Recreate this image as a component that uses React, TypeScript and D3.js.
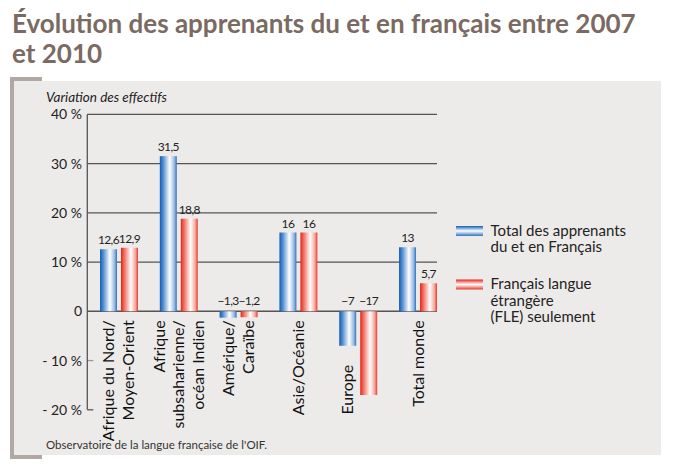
import * as d3 from "d3"

const categories = ["Afrique du Nord/Moyen-Orient", "Afrique subsaharienne/océan Indien", "Amérique/Caraïbe", "Asie/Océanie", "Europe", "Total monde"]
const categoryLines = [
    ["Afrique du Nord/", "Moyen-Orient"],
    ["Afrique", "subsaharienne/", "océan Indien"],
    ["Amérique/", "Caraïbe"],
    ["Asie/Océanie"],
    ["Europe"],
    ["Total monde"],
]
const totalValues = [12.6, 31.5, -1.3, 16, -7, 13]
const fleValues = [12.9, 18.8, -1.2, 16, -17, 5.7]
const seriesNames = ["Total des apprenants du et en Français", "Français langue étrangère (FLE) seulement"]
const legendLines = [
    ["Total des apprenants", "du et en Français"],
    ["Français langue", "étrangère", "(FLE) seulement"],
]
const yTicks = [40, 30, 20, 10, 0, -10, -20]

const W = 674
const H = 470
const FONT = "Lato, 'Open Sans', sans-serif"

const locale = d3.formatLocale({ decimal: ",", thousands: " ", grouping: [3], currency: ["", "€"], minus: "−" })
const fmt = locale.format(".3~g")
const tickLabel = (v: number) => (v === 0 ? "0" : v > 0 ? `${v} %` : `- ${-v} %`)

export default function App() {
    const y = d3.scaleLinear().domain([-20, 40]).range([409.8, 114.3])
    const x0 = d3.scaleBand<string>().domain(categories).range([100, 437]).paddingInner(0.365).paddingOuter(0).align(0)
    const x1 = d3.scaleBand<number>().domain([0, 1]).range([0, x0.bandwidth()]).paddingInner(0.19).paddingOuter(0)
    const left = 87.3
    const right = 437

    const series = [totalValues, fleValues]
    const gradIds = ["gBlue", "gRed"]

    return (
        <svg width={W} height={H} viewBox={`0 0 ${W} ${H}`} style={{ position: "absolute", left: 0, top: 0, background: "#fff" }}>
            <defs>
                <linearGradient id="gBlue" x1="0" x2="1" y1="0" y2="0">
                    <stop offset="0" stopColor="#135eb0" />
                    <stop offset="0.18" stopColor="#4b89cd" />
                    <stop offset="0.58" stopColor="#ffffff" />
                    <stop offset="0.85" stopColor="#9bbbe2" />
                    <stop offset="1" stopColor="#2f72c2" />
                </linearGradient>
                <linearGradient id="gRed" x1="0" x2="1" y1="0" y2="0">
                    <stop offset="0" stopColor="#e8241a" />
                    <stop offset="0.18" stopColor="#f0695a" />
                    <stop offset="0.58" stopColor="#ffffff" />
                    <stop offset="0.85" stopColor="#f5a79c" />
                    <stop offset="1" stopColor="#e83a2c" />
                </linearGradient>
                <linearGradient id="gBlueL" x1="0" x2="0" y1="0" y2="1">
                    <stop offset="0" stopColor="#135eb0" />
                    <stop offset="0.5" stopColor="#ffffff" />
                    <stop offset="1" stopColor="#2f72c2" />
                </linearGradient>
                <linearGradient id="gRedL" x1="0" x2="0" y1="0" y2="1">
                    <stop offset="0" stopColor="#e8241a" />
                    <stop offset="0.5" stopColor="#ffffff" />
                    <stop offset="1" stopColor="#e83a2c" />
                </linearGradient>
            </defs>

            {/* title */}
            <text x={12} y={33} fontFamily={FONT} fontWeight={700} fontSize={26} fill="#7b6a62">
                Évolution des apprenants du et en français entre 2007
            </text>
            <text x={12} y={63} fontFamily={FONT} fontWeight={700} fontSize={26} fill="#7b6a62">
                et 2010
            </text>

            {/* panel */}
            <rect x={14} y={81} width={647} height={374} fill="#edebe9" />
            <rect x={10} y={77} width={32} height={4} fill="#b2a8a3" />
            <rect x={10} y={77} width={4} height={382} fill="#b2a8a3" />
            <rect x={10} y={455} width={32} height={4} fill="#b2a8a3" />

            <text x={46} y={102} fontFamily={FONT} fontStyle="italic" fontSize={13.5} fill="#222">
                Variation des effectifs
            </text>

            {/* grid + ticks */}
            {yTicks.map((t) => (
                <g key={t}>
                    {t >= 0 ? (
                        <line x1={left} x2={right} y1={y(t)} y2={y(t)} stroke="#555" strokeWidth={t === 0 ? 1.4 : 1.2} />
                    ) : (
                        <line x1={left} x2={left + 6} y1={y(t)} y2={y(t)} stroke={t === -20 ? "#555" : "#999"} strokeWidth={1.3} />
                    )}
                    <text x={82} y={y(t) + 5} textAnchor="end" fontFamily={FONT} fontSize={14} fill="#222">
                        {tickLabel(t)}
                    </text>
                </g>
            ))}
            <line x1={left} x2={left} y1={y(40)} y2={y(-20)} stroke="#555" strokeWidth={1.3} />

            {/* bars */}
            {series.map((vals, s) =>
                vals.map((v, i) => {
                    const bx = (x0(categories[i]) ?? 0) + (x1(s) ?? 0)
                    const bw = x1.bandwidth()
                    return (
                        <g key={`${s}-${i}`}>
                            <rect x={bx} y={y(Math.max(0, v))} width={bw} height={Math.abs(y(v) - y(0))} fill={`url(#${gradIds[s]})`} />
                            <text
                                x={bx + bw / 2}
                                y={v >= 0 ? y(v) - 5 : y(0) - 6}
                                textAnchor="middle"
                                fontFamily={FONT}
                                fontSize={12}
                                letterSpacing={-0.6}
                                fill="#222"
                            >
                                {fmt(v)}
                            </text>
                        </g>
                    )
                }),
            )}

            {/* category labels */}
            {categories.map((c, i) => {
                const lines = categoryLines[i]
                const underBlue = fleValues[i] < -10
                const cx = underBlue
                    ? (x0(c) ?? 0) + (x1(0) ?? 0) + x1.bandwidth() / 2
                    : (x0(c) ?? 0) + x0.bandwidth() / 2
                const top = underBlue ? y(Math.min(0, totalValues[i])) + 19 : y(0) + 9
                const n = lines.length
                const step = n > 2 ? 19.3 : 20
                return (
                    <text key={c} transform={`translate(${cx},${top}) rotate(-90)`} textAnchor="end" fontFamily={FONT} fontSize={16} fill="#111">
                        {lines.map((l, k) => (
                            <tspan key={k} x={0} y={(k - (n - 1) / 2) * step + 5.5}>
                                {l}
                            </tspan>
                        ))}
                    </text>
                )
            })}

            {/* legend */}
            {seriesNames.map((name, s) => {
                const ly = s === 0 ? 226 : 279.5
                return (
                    <g key={name}>
                        <rect x={456} y={ly} width={27} height={10} fill={`url(#${s === 0 ? "gBlueL" : "gRedL"})`} />
                        <text fontFamily={FONT} fontSize={15} fill="#222">
                            {legendLines[s].map((l, k) => (
                                <tspan key={k} x={490.5} y={ly + 9.5 + k * 16.5}>
                                    {l}
                                </tspan>
                            ))}
                        </text>
                    </g>
                )
            })}

            <text x={46} y={449} fontFamily={FONT} fontSize={11.5} fill="#333">
                Observatoire de la langue française de l'OIF.
            </text>
        </svg>
    )
}
